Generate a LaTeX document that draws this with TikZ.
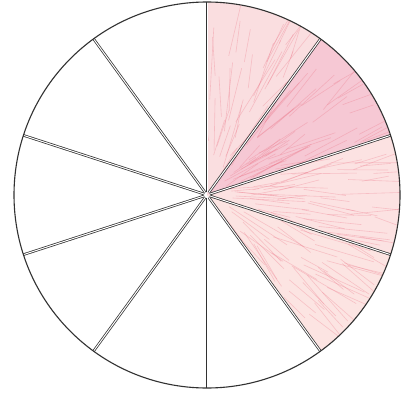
\documentclass[tikz,border=0pt]{standalone}
\usetikzlibrary{calc}
\definecolor{pinkA}{RGB}{250,222,224}
\definecolor{pinkB}{RGB}{246,200,212}
\definecolor{pinkC}{RGB}{252,226,226}
\definecolor{pinkD}{RGB}{252,228,226}
\definecolor{crayon}{RGB}{236,110,130}
\definecolor{rim}{RGB}{50,50,50}
\tikzset{
  spoke/.style={draw=rim, line width=0.75pt, double=white, double distance=1.0pt},
  rimline/.style={draw=rim, line width=1.1pt},
  strokes/.style={draw=crayon, line width=0.6pt, opacity=0.3}
}
\begin{document}
\begin{tikzpicture}[x=1pt,y=1pt]
\useasboundingbox (0,0) rectangle (403,394);
\fill[white] (0,0) rectangle (403,394);
\coordinate (c) at (207,199);
\def\R{193}
% shaded sectors
\fill[pinkA] (c) -- ++(90:\R) arc[start angle=90,end angle=54,radius=\R] -- cycle;
\fill[pinkB] (c) -- ++(54:\R) arc[start angle=54,end angle=18,radius=\R] -- cycle;
\fill[pinkC] (c) -- ++(18:\R) arc[start angle=18,end angle=-18,radius=\R] -- cycle;
\fill[pinkD] (c) -- ++(-18:\R) arc[start angle=-18,end angle=-54,radius=\R] -- cycle;
% crayon texture
\begin{scope}
\clip (c) -- ++(90:\R) arc[start angle=90,end angle=-54,radius=\R] -- cycle;
\pgfmathsetseed{7}
\foreach \i in {1,...,180}{
  \pgfmathsetmacro{\ang}{-54+144*rnd}
  \pgfmathsetmacro{\ra}{20+150*rnd}
  \pgfmathsetmacro{\len}{25+50*rnd}
  \pgfmathsetmacro{\tilt}{\ang+(rnd-0.5)*30}
  \draw[strokes] ($(c)+(\ang:\ra)$) -- ++(\tilt:\len);
}
\end{scope}
% spokes
\foreach \a in {90,54,18,-18,-54,-90,-126,-162,162,126}{
  \draw[spoke] ($(c)+(\a:3)$) -- ($(c)+(\a:\R)$);
}
% rim
\draw[rimline] (c) circle[radius=\R];
\end{tikzpicture}
\end{document}
